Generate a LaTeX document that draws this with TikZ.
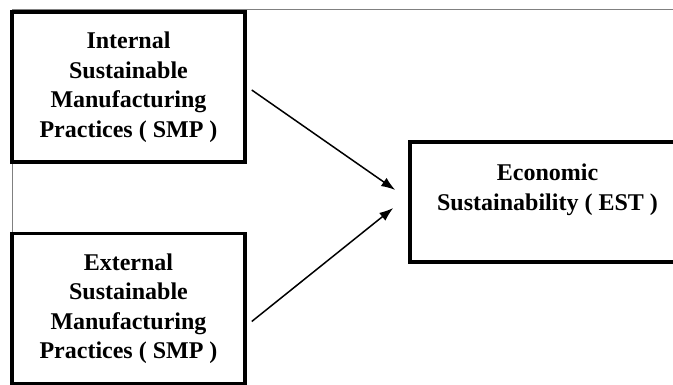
\documentclass[tikz,border=0pt]{standalone}
\usepackage{fontspec}
\setmainfont{Liberation Serif}
\usetikzlibrary{arrows.meta}

\begin{document}
\begin{tikzpicture}[x=1pt,y=1pt,
  block/.style={draw,line width=3.5pt,minimum width=233pt,minimum height=150pt,align=center,font=\fontsize{24}{29.5}\selectfont\bfseries},
  arr/.style={-{Latex[length=14pt,width=10pt]},line width=1.5pt}]
  \useasboundingbox (0,0) rectangle (673,385);
  \clip (0,0) rectangle (673,385);
  % thin outer frame, only its top and left side show
  \draw[gray,line width=1pt] (12,-20) rectangle (700,375);
  \node[block] (int) at (128.5,298) {Internal\\Sustainable\\Manufacturing\\Practices ( SMP )};
  \node[block] (ext) at (128.5,76.5) {External\\Sustainable\\Manufacturing\\Practices ( SMP )};
  \node[block,minimum width=275pt,minimum height=120pt,text depth=30pt] (est) at (547.5,183) {Economic\\Sustainability ( EST )};
  \draw[arr] ([shift={(5,-3)}]int.east) -- ([shift={(-13,12)}]est.west);
  \draw[arr] ([shift={(5,-13)}]ext.east) -- ([shift={(-15,-6)}]est.west);
\end{tikzpicture}
\end{document}
